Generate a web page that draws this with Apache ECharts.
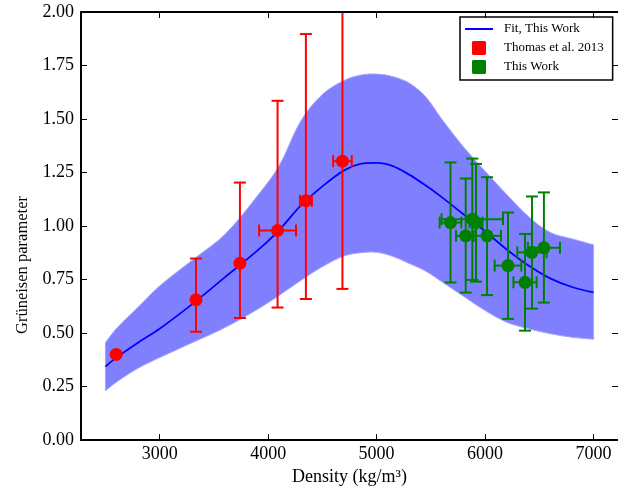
<!DOCTYPE html>
<html><head><meta charset="utf-8">
<script src="https://cdn.jsdelivr.net/npm/echarts@6/dist/echarts.min.js"></script>
<style>html,body{margin:0;padding:0;background:#fff}#c{width:618px;height:499px}</style>
</head><body><div id="c"></div>
<script>
// ---- data ----
const bandDensity = [2500, 2600, 2800, 3000, 3300, 3600, 3900, 4100, 4300, 4500, 4700, 4850, 5000, 5150, 5300, 5450, 5600, 5800, 6000, 6200, 6400, 6600, 6800, 7000];
const fitGamma    = [0.343, 0.385, 0.455, 0.52, 0.635, 0.76, 0.885, 0.98, 1.095, 1.185, 1.26, 1.29, 1.295, 1.28, 1.24, 1.19, 1.135, 1.055, 0.975, 0.89, 0.815, 0.755, 0.715, 0.69];
const bandHigh    = [0.455, 0.52, 0.62, 0.72, 0.84, 0.96, 1.14, 1.28, 1.49, 1.615, 1.68, 1.705, 1.71, 1.698, 1.668, 1.605, 1.50, 1.37, 1.256, 1.147, 1.044, 0.97, 0.94, 0.912];
const bandLow     = [0.23, 0.27, 0.335, 0.385, 0.455, 0.525, 0.61, 0.675, 0.745, 0.81, 0.86, 0.875, 0.877, 0.858, 0.825, 0.79, 0.74, 0.672, 0.605, 0.55, 0.52, 0.497, 0.48, 0.471];

const thomasDensity    = [2600, 3335, 3740, 4087, 4348, 4685];
const thomasGamma      = [0.40, 0.655, 0.826, 0.979, 1.118, 1.303];
const thomasGammaLow   = [0.40, 0.506, 0.570, 0.619, 0.659, 0.706];
const thomasGammaHigh  = [0.40, 0.848, 1.203, 1.585, 1.897, 2.10];
const thomasDensityErr = [0, 0, 0, 170, 55, 86];

const workDensity    = [5681, 5821, 5882, 5916, 6018, 6211, 6368, 6432, 6542];
const workGamma      = [1.016, 0.954, 1.032, 1.016, 0.954, 0.815, 0.737, 0.877, 0.898];
const workGammaLow   = [0.736, 0.689, 0.748, 0.740, 0.677, 0.566, 0.511, 0.614, 0.642];
const workGammaHigh  = [1.297, 1.222, 1.315, 1.290, 1.228, 1.063, 0.963, 1.138, 1.157];
const workDensityErr = [100, 89, 283, 60, 128, 123, 107, 135, 148];

const xTicks = [3000, 4000, 5000, 6000, 7000];

// ---- chart ----
const serif = '"Liberation Serif", "Times New Roman", serif';
const chart = echarts.init(document.getElementById('c'));

function errorBars(name, dens, gam, lo, hi, dErr, color) {
  return {
    type: 'custom', name: name, clip: true, z: 4, silent: true,
    data: dens.map((d, i) => [d, gam[i], lo[i], hi[i], dErr[i]]),
    renderItem: function (params, api) {
      const x = api.value(0), y = api.value(1), l = api.value(2), h = api.value(3), dx = api.value(4);
      const st = { stroke: color, lineWidth: 2 };
      const cap = 6;
      const ch = [];
      if (h > l) {
        const a = api.coord([x, l]), b = api.coord([x, h]);
        ch.push({ type: 'line', shape: { x1: a[0], y1: a[1], x2: b[0], y2: b[1] }, style: st });
        ch.push({ type: 'line', shape: { x1: a[0] - cap, y1: a[1], x2: a[0] + cap, y2: a[1] }, style: st });
        ch.push({ type: 'line', shape: { x1: b[0] - cap, y1: b[1], x2: b[0] + cap, y2: b[1] }, style: st });
      }
      if (dx > 0) {
        const a = api.coord([x - dx, y]), b = api.coord([x + dx, y]);
        ch.push({ type: 'line', shape: { x1: a[0], y1: a[1], x2: b[0], y2: b[1] }, style: st });
        ch.push({ type: 'line', shape: { x1: a[0], y1: a[1] - cap, x2: a[0], y2: a[1] + cap }, style: st });
        ch.push({ type: 'line', shape: { x1: b[0], y1: b[1] - cap, x2: b[0], y2: b[1] + cap }, style: st });
      }
      return { type: 'group', children: ch };
    }
  };
}

const axisCommon = {
  type: 'value',
  splitLine: { show: false },
  axisLine: { show: true, onZero: false, lineStyle: { color: '#000', width: 2 } },
  axisTick: { show: true, inside: true, length: 6, lineStyle: { color: '#000', width: 1 } },
  z: 10
};

const sq = 'path://M1,0 L13,0 L14,1 L14,13 L13,14 L1,14 L0,13 L0,1 Z';

const option = {
  backgroundColor: '#fff',
  animation: false,
  grid: { left: 81, top: 12, width: 538, height: 428 },
  legend: {
    data: [
      { name: 'Fit, This Work', icon: 'path://M0,0 M28,14 M0,6 L28,6 L28,8 L0,8 Z', itemStyle: { color: '#0000ff' } },
      { name: 'Thomas et al. 2013', icon: sq },
      { name: 'This Work', icon: sq }
    ],
    orient: 'vertical', left: 460, top: 17,
    itemWidth: 28, itemHeight: 14, itemGap: 5,
    padding: [5, 9, 6, 5],
    borderColor: '#000', borderWidth: 1.5, borderRadius: 0,
    backgroundColor: '#fff',
    textStyle: { fontFamily: serif, fontSize: 13, color: '#000', padding: [0, 0, 0, 6] },
    selectedMode: false
  },
  xAxis: [
    Object.assign({}, axisCommon, {
      position: 'bottom', min: 2275, max: 7225,
      name: 'Density (kg/m³)', nameLocation: 'middle', nameGap: 24,
      nameTextStyle: { fontFamily: serif, fontSize: 18, color: '#000' },
      axisTick: Object.assign({}, axisCommon.axisTick, { customValues: xTicks }),
      axisLabel: { customValues: xTicks, fontFamily: serif, fontSize: 18, color: '#000', margin: 5,
                   formatter: v => String(v) }
    }),
    Object.assign({}, axisCommon, {
      position: 'top', min: 2275, max: 7225,
      axisTick: Object.assign({}, axisCommon.axisTick, { customValues: xTicks }),
      axisLabel: { show: false }
    })
  ],
  yAxis: [
    Object.assign({}, axisCommon, {
      position: 'left', min: 0, max: 2, interval: 0.25,
      name: 'Grüneisen parameter', nameLocation: 'middle', nameGap: 49,
      nameTextStyle: { fontFamily: serif, fontSize: 16.5, color: '#000', padding: [0, 78, 0, 0] },
      axisLabel: { fontFamily: serif, fontSize: 18, color: '#000', margin: 7,
                   formatter: v => v.toFixed(2) }
    }),
    Object.assign({}, axisCommon, {
      position: 'right', min: 0, max: 2, interval: 0.25,
      axisLine: { show: false },
      axisLabel: { show: false }
    })
  ],
  series: [
    {
      name: 'band', type: 'custom', z: 1, silent: true, clip: true,
      data: bandDensity.map((d, i) => [d, bandLow[i], bandHigh[i]]),
      renderItem: function (params, api) {
        if (params.dataIndex !== 0) return null;
        const up = bandDensity.map((d, i) => api.coord([d, bandHigh[i]]));
        const lo = bandDensity.map((d, i) => api.coord([d, bandLow[i]])).reverse();
        // duplicate the end points so the spline keeps the vertical ends sharp
        const pts = [up[0]].concat(up, [up[up.length - 1]], [lo[0]], lo, [lo[lo.length - 1]]);
        return {
          type: 'polygon',
          shape: { points: pts, smooth: 0.35 },
          style: { fill: '#8080ff', stroke: '#a6a6ff', lineWidth: 1 }
        };
      }
    },
    {
      name: 'Fit, This Work', type: 'line', z: 3,
      data: bandDensity.map((d, i) => [d, fitGamma[i]]),
      smooth: 0.35, symbol: 'none',
      lineStyle: { color: '#0000ff', width: 1.8 }, itemStyle: { color: '#0000ff' }
    },
    errorBars('Thomas err', thomasDensity, thomasGamma, thomasGammaLow, thomasGammaHigh, thomasDensityErr, '#ff0000'),
    errorBars('Work err', workDensity, workGamma, workGammaLow, workGammaHigh, workDensityErr, '#008000'),
    {
      name: 'Thomas et al. 2013', type: 'scatter', z: 5,
      data: thomasDensity.map((d, i) => [d, thomasGamma[i]]),
      symbol: 'circle', symbolSize: 13, itemStyle: { color: '#ff0000', opacity: 1 }
    },
    {
      name: 'This Work', type: 'scatter', z: 5,
      data: workDensity.map((d, i) => [d, workGamma[i]]),
      symbol: 'circle', symbolSize: 13, itemStyle: { color: '#008000', opacity: 1 }
    }
  ]
};
chart.setOption(option);
</script>
</body></html>
